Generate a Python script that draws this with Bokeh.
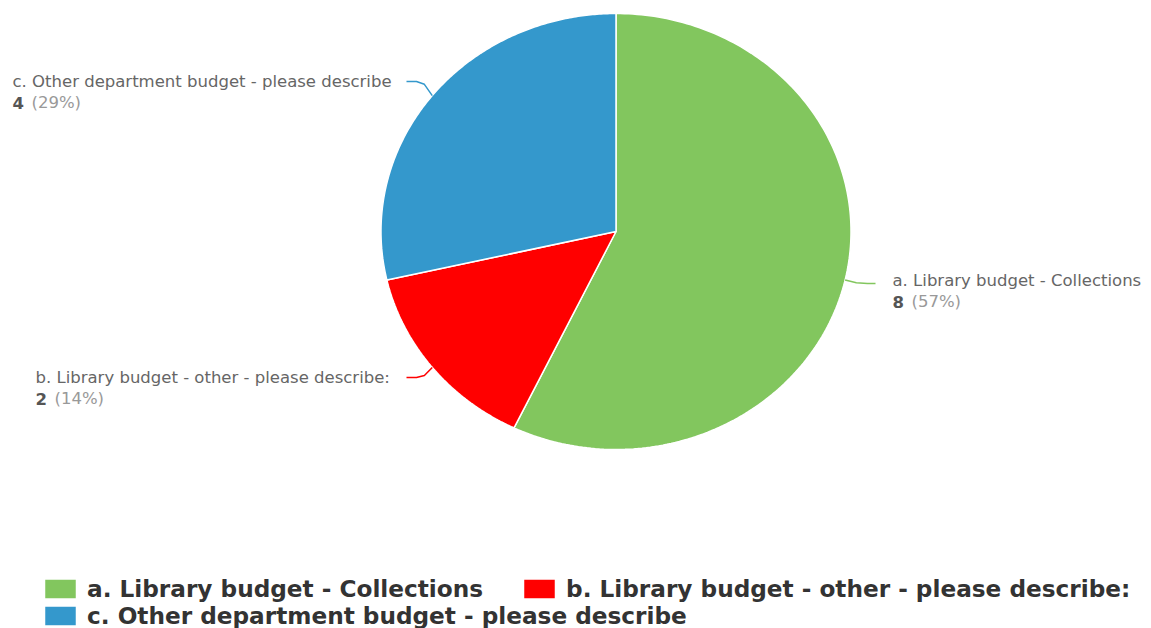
import numpy as np
from bokeh.plotting import figure
from bokeh.models import Range1d, ColumnDataSource, Legend, LegendItem
from bokeh.core.properties import value
from bokeh.embed import file_html
from bokeh.resources import INLINE

# ---- data ----
categories = [
    "a. Library budget - Collections",
    "b. Library budget - other - please describe:",
    "c. Other department budget - please describe",
]
counts = [8, 2, 4]
colors = ["#82C65E", "#FF0000", "#3498CC"]

# ---- layout ----
W, H = 1151, 628
cx, cy = 615.5, 231.0
rx, ry = 235.0, 218.0
label_left = [892, 35, 12]        # left edge of each label block
label_y = [280, 377, 81]          # first-line centre of each label block
line_gap = 21
pct_offset = 19
FONT = "DejaVu Sans"
LFS = "16.5px"

p = figure(width=W, height=H, output_backend="svg", toolbar_location=None,
           x_range=Range1d(0, W), y_range=Range1d(H, 0), min_border=0)
p.axis.visible = False
p.grid.visible = False
p.outline_line_color = None
p.background_fill_color = "white"

total = sum(counts)
fracs = np.array(counts) / total
ends = np.cumsum(fracs)
starts = ends - fracs

xs, ys, mids = [], [], []
for s, e in zip(starts, ends):
    a0 = np.pi / 2 - 2 * np.pi * s
    a1 = np.pi / 2 - 2 * np.pi * e
    t = np.linspace(a0, a1, 200)
    xs.append([cx] + list(cx + rx * np.cos(t)) + [cx])
    ys.append([cy] + list(cy - ry * np.sin(t)) + [cy])
    mids.append((a0 + a1) / 2)

src = ColumnDataSource(dict(xs=xs, ys=ys, color=colors, label=categories))
pie = p.patches("xs", "ys", source=src, fill_color="color", line_color="white",
                line_width=1.5)

# connectors
for i, m in enumerate(mids):
    ex, ey = cx + rx * np.cos(m), cy - ry * np.sin(m)
    right = np.cos(m) > 0
    if right:
        endx = label_left[i] - 17
    else:
        endx = 406
    ly = label_y[i] + (3 if right else 0)
    bendx = endx - (8 if right else -10)
    p.line([ex, (ex + bendx) / 2, bendx, endx], [ey, (ey + ly) / 2 + (ly - ey) * 0.3, ly, ly],
           line_color=colors[i], line_width=1.5)

pcts = [f"({round(100 * c / total)}%)" for c in counts]
lsrc = ColumnDataSource(dict(x=label_left, y=label_y, t=categories))
p.text("x", "y", text="t", source=lsrc, text_font=value(FONT), text_font_size=value(LFS),
       text_color="#666666", text_baseline="middle", text_align="left")
vsrc = ColumnDataSource(dict(x=label_left, y=[v + line_gap for v in label_y],
                             t=[str(c) for c in counts]))
p.text("x", "y", text="t", source=vsrc, text_font=value(FONT), text_font_size=value(LFS),
       text_font_style="bold", text_color="#555555", text_baseline="middle", text_align="left")
psrc = ColumnDataSource(dict(x=[x + pct_offset for x in label_left],
                             y=[v + line_gap for v in label_y], t=pcts))
p.text("x", "y", text="t", source=psrc, text_font=value(FONT), text_font_size=value(LFS),
       text_color="#999999", text_baseline="middle", text_align="left")

def mk_legend(idx, loc):
    lg = Legend(items=[LegendItem(label=categories[i], renderers=[pie], index=i) for i in idx],
                orientation="horizontal", location=loc,
                glyph_width=40, glyph_height=25, label_standoff=7, spacing=36,
                padding=0, margin=0, border_line_color=None, background_fill_alpha=0,
                label_text_font=FONT, label_text_font_style="bold",
                label_text_font_size="23.2px", label_text_color="#333333",
                label_height=25)
    return lg

p.add_layout(mk_legend([0, 1], (40, 26)))
p.add_layout(mk_legend([2], (40, -1)))

open("out.html", "w").write(file_html(p, INLINE))
